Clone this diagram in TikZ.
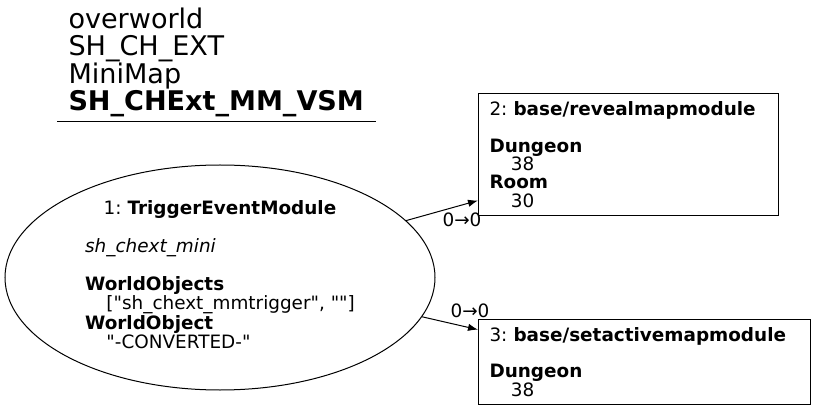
\documentclass[tikz,border=0pt]{standalone}
\usepackage{fontspec}
\setmainfont{DejaVu Sans}
\usetikzlibrary{arrows.meta,shapes.geometric}
\tikzset{every node/.append style={font=\fontsize{13.8}{13.7}\selectfont}}
\newcommand{\ind}{\hspace*{16pt}}
\newcommand{\qq}{\textquotedbl}
\frenchspacing

\begin{document}
\begin{tikzpicture}[x=0.75pt, y=-0.75pt, >={Latex[length=7.5pt,width=5.5pt]}, line width=0.75pt,
    modbox/.style={draw, rectangle, anchor=north west, inner xsep=8.25pt, align=left},
    elabel/.style={inner sep=0pt}]
    \useasboundingbox (0,0) rectangle (816,409);
    % heading
    \node[inner sep=0pt, anchor=west, align=left, font=\fontsize{20.3}{20.2}\selectfont] (title) at (68,62.5)
        {overworld\\SH\_CH\_EXT\\MiniMap\\\textbf{SH\_CHExt\_MM\_VSM}};
    \draw (57,122) -- (376,122);
    % modules
    \node[draw, ellipse, minimum width=322.5pt, minimum height=168.75pt, inner sep=0pt] (trig) at (220,277.5)
        {\begin{tabular}{@{}l@{}}\multicolumn{1}{@{}c@{}}{1: \textbf{TriggerEventModule}}\\ \\
        \textit{sh\_chext\_mini}\\ \\
        \textbf{WorldObjects}\\ \ind[\qq sh\_chext\_mmtrigger\qq, \qq\qq]\\
        \textbf{WorldObject}\\ \ind\qq-CONVERTED-\qq\end{tabular}};
    \node[modbox, text width=208.5pt, minimum height=91.5pt] (reveal) at (478,93)
        {2: \textbf{base/revealmapmodule}\\[13.7pt] \textbf{Dungeon}\\ \ind 38\\ \textbf{Room}\\ \ind 30};
    \node[modbox, text width=232.5pt, minimum height=63.75pt] (setmap) at (478,319)
        {3: \textbf{base/setactivemapmodule}\\[13.7pt] \textbf{Dungeon}\\ \ind 38};
    % links
    \draw[->] (trig.17) -- (reveal.197);
    \draw[->] (trig.-11.3) -- (setmap.169);
    \node[elabel] (l1) at (462,220) {0→0};
    \node[elabel] (l2) at (470,311) {0→0};
\end{tikzpicture}
\end{document}
